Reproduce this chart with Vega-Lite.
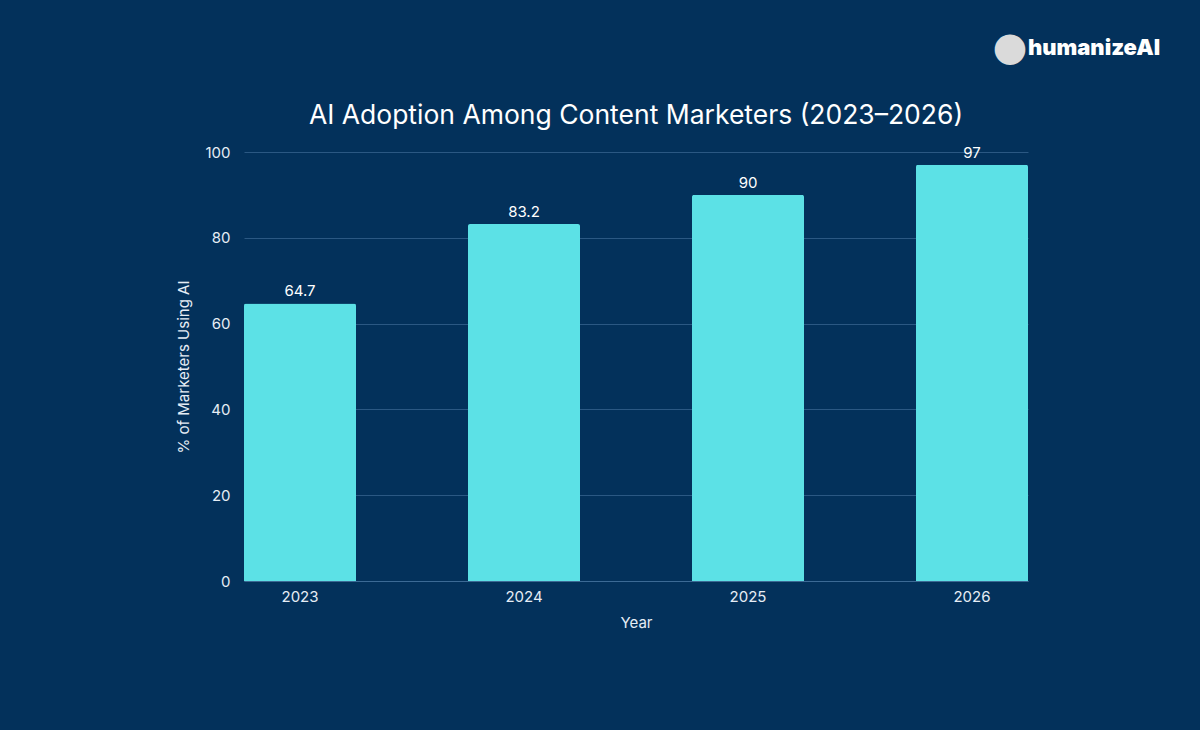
{
  "$schema": "https://vega.github.io/schema/vega-lite/v6.json",
  "width": 784,
  "height": 429,
  "autosize": "none",
  "padding": {"left": 244, "top": 152, "right": 172, "bottom": 149},
  "background": "#03315B",
  "title": {
    "text": "AI Adoption Among Content Marketers (2023–2026)",
    "anchor": "middle",
    "font": "Inter",
    "fontSize": 26.5,
    "fontWeight": "normal",
    "color": "#FFFFFF",
    "offset": 13,
    "dy": 114
  },
  "config": {
    "view": {"stroke": null},
    "font": "Inter",
    "axis": {
      "labelColor": "#E6EDF5",
      "titleColor": "#E6EDF5",
      "labelFont": "Inter",
      "titleFont": "Inter",
      "labelFontSize": 15,
      "titleFontSize": 15,
      "titleFontWeight": "normal",
      "gridColor": "#2B5883",
      "domainColor": "#3C6A95",
      "ticks": false
    }
  },
  "data": {
    "values": [
      {"year": "2023", "pct": 64.7},
      {"year": "2024", "pct": 83.2},
      {"year": "2025", "pct": 90},
      {"year": "2026", "pct": 97}
    ]
  },
  "layer": [
    {
      "mark": {"type": "bar", "color": "#5CE1E6", "cornerRadiusEnd": 2},
      "encoding": {
        "x": {
          "field": "year",
          "type": "nominal",
          "title": "Year",
          "scale": {"paddingInner": 0.5, "paddingOuter": 0},
          "axis": {"labelAngle": 0, "labelPadding": 8, "titlePadding": 11, "grid": false}
        },
        "y": {
          "field": "pct",
          "type": "quantitative",
          "title": "% of Marketers Using AI",
          "scale": {"domain": [0, 100]},
          "axis": {"tickCount": 5, "labelPadding": 14, "titlePadding": 13, "domain": false}
        }
      }
    },
    {
      "mark": {"type": "text", "dy": -4, "baseline": "bottom", "fontSize": 15, "color": "#FFFFFF", "font": "Inter"},
      "encoding": {
        "x": {"field": "year", "type": "nominal"},
        "y": {"field": "pct", "type": "quantitative"},
        "text": {"field": "pct", "type": "quantitative"}
      }
    },
    {
      "data": {"values": [{"brand": "humanizeAI", "year": "2026", "pct": 100}]},
      "mark": {"type": "text", "dx": 122, "dy": -104, "fontSize": 22, "fontWeight": 900, "color": "#FFFFFF", "font": "Inter"},
      "encoding": {
        "x": {"field": "year", "type": "nominal"},
        "y": {"field": "pct", "type": "quantitative"},
        "text": {"field": "brand", "type": "nominal"}
      }
    },
    {
      "data": {"values": [{"icon": "●", "year": "2026", "pct": 100}]},
      "mark": {"type": "text", "dx": 38, "dy": -104, "fontSize": 40, "color": "#DADADA", "font": "DejaVu Sans"},
      "encoding": {
        "x": {"field": "year", "type": "nominal"},
        "y": {"field": "pct", "type": "quantitative"},
        "text": {"field": "icon", "type": "nominal"}
      }
    }
  ]
}
